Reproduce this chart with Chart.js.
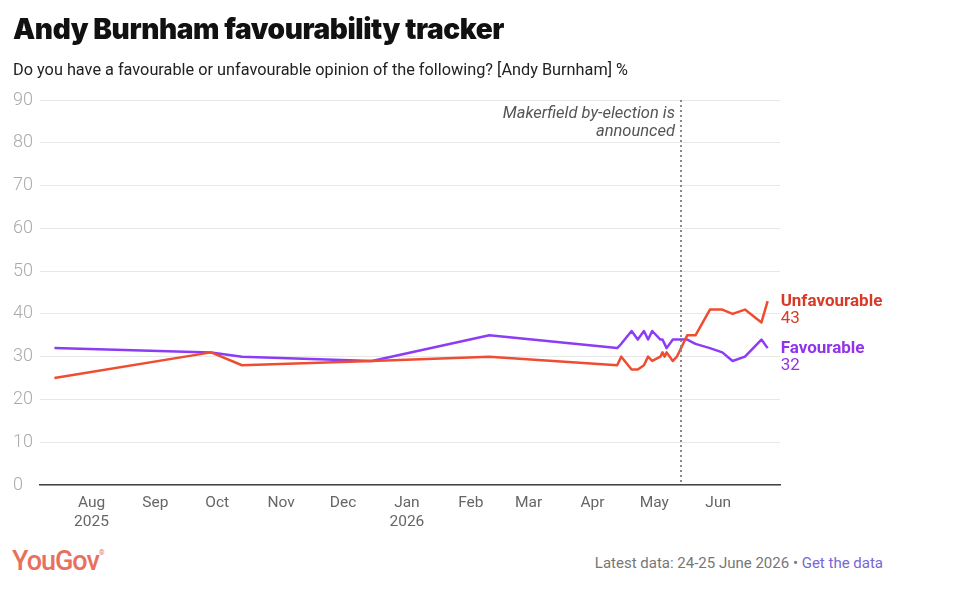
<!DOCTYPE html>
<html>
<head>
<meta charset="utf-8">
<script src="https://cdn.jsdelivr.net/npm/chart.js@4"></script>
<style>
  html, body { margin: 0; padding: 0; background: #fff; }
  body { width: 960px; height: 596px; position: relative; overflow: hidden; font-family: Roboto, sans-serif; }
  #title { position: absolute; left: 13px; top: 12px; font-family: Inter, sans-serif; font-weight: 900; font-size: 28px; letter-spacing: -0.4px; color: #111; }
  #subtitle { position: absolute; left: 13px; top: 60px; font-size: 16.3px; color: #222; }
  #wrap { position: absolute; left: 0; top: 0; width: 960px; height: 540px; }
  #logo { position: absolute; left: 12px; top: 545px; font-family: Roboto, sans-serif; font-weight: 500; font-size: 27px; letter-spacing: -1px; color: #e8705f; }
  #logo sup { font-size: 7px; vertical-align: 15px; letter-spacing: 0; }
  #footer { position: absolute; right: 77px; top: 554px; font-size: 15px; color: #777; }
  #footer a { color: #7866d8; text-decoration: none; }
</style>
</head>
<body>
<div id="wrap"><canvas id="chart"></canvas></div>
<div id="title">Andy Burnham favourability tracker</div>
<div id="subtitle">Do you have a favourable or unfavourable opinion of the following? [Andy Burnham] %</div>
<div id="logo">YouGov<sup>®</sup></div>
<div id="footer">Latest data: 24-25 June 2026 • <a>Get the data</a></div>
<script>
'use strict';

//////////////////////
// data
//////////////////////

const pollDates = ['2025-07-14', '2025-09-28', '2025-10-13', '2025-12-15', '2026-02-10',
  '2026-04-13', '2026-04-15', '2026-04-20', '2026-04-23', '2026-04-26', '2026-04-28', '2026-04-30',
  '2026-05-04', '2026-05-05', '2026-05-06', '2026-05-07', '2026-05-10', '2026-05-12', '2026-05-17',
  '2026-05-21', '2026-05-28', '2026-06-03', '2026-06-08', '2026-06-14', '2026-06-22', '2026-06-25'];
const unfavourable = [25, 31, 28, 29, 30,
  28, 30, 27, 27, 28, 30, 29,
  30, 31, 30, 31, 29, 30, 35,
  35, 41, 41, 40, 41, 38, 43];
const favourable = [32, 31, 30, 29, 35,
  32, 33, 36, 34, 36, 34, 36,
  34, 34, 33, 32, 34, 34, 34,
  33, 32, 31, 29, 30, 34, 32];

const monthTickDates = ['2025-08-01', '2025-09-01', '2025-10-01', '2025-11-01', '2025-12-01', '2026-01-01',
  '2026-02-01', '2026-03-01', '2026-04-01', '2026-05-01', '2026-06-01'];
const monthLabels = ['Aug', 'Sep', 'Oct', 'Nov', 'Dec', 'Jan', 'Feb', 'Mar', 'Apr', 'May', 'Jun'];
const yearLabels = ['2025', '', '', '', '', '2026', '', '', '', '', ''];
const yTicks = [0, 10, 20, 30, 40, 50, 60, 70, 80, 90];

const xStart = '2025-07-07';
const xEnd = '2026-07-01';
const eventDate = '2026-05-14';
const eventText = ['Makerfield by-election is', 'announced'];

const unfavColour = '#ef4d31';
const favColour = '#8d3cf6';

//////////////////////
// helpers
//////////////////////

function dayNum(str) {
  const p = str.split('-');
  return Date.UTC(+p[0], +p[1] - 1, +p[2]) / 86400000;
}

function toPoints(values) {
  return values.map((v, i) => ({ x: dayNum(pollDates[i]), y: v }));
}

// dotted line + note, and the end-of-line labels
const overlayPlugin = {
  id: 'overlay',
  afterDatasetsDraw(chart) {
    const ctx = chart.ctx;
    const xs = chart.scales.x;
    const ys = chart.scales.y;
    const area = chart.chartArea;

    const ex = Math.round(xs.getPixelForValue(dayNum(eventDate)));
    ctx.save();
    ctx.strokeStyle = '#8a8a8a';
    ctx.lineWidth = 2;
    ctx.setLineDash([2, 3]);
    ctx.beginPath();
    ctx.moveTo(ex, area.top);
    ctx.lineTo(ex, area.bottom);
    ctx.stroke();
    ctx.setLineDash([]);

    ctx.font = 'italic 16.5px Roboto';
    ctx.fillStyle = '#555';
    ctx.textAlign = 'right';
    ctx.textBaseline = 'middle';
    eventText.forEach((t, i) => ctx.fillText(t, ex - 6, area.top + 14 + i * 18));

    const series = [
      { name: 'Unfavourable', values: unfavourable, colour: '#d93a27' },
      { name: 'Favourable', values: favourable, colour: '#9133ea' }
    ];
    ctx.textAlign = 'left';
    for (const s of series) {
      const last = s.values.length - 1;
      const px = xs.getPixelForValue(dayNum(pollDates[last])) + 13;
      const py = ys.getPixelForValue(s.values[last]);
      ctx.fillStyle = s.colour;
      ctx.font = 'bold 17px Roboto';
      ctx.fillText(s.name, px, py + 1);
      ctx.font = '17px Roboto';
      ctx.fillText(String(s.values[last]), px, py + 18);
    }
    ctx.restore();
  }
};

//////////////////////
// chart
//////////////////////

const config = {
  type: 'line',
  data: {
    datasets: [
      { label: 'Unfavourable', data: toPoints(unfavourable), borderColor: unfavColour, borderWidth: 2.5, pointRadius: 0, tension: 0, borderJoinStyle: 'round' },
      { label: 'Favourable', data: toPoints(favourable), borderColor: favColour, borderWidth: 2.5, pointRadius: 0, tension: 0, borderJoinStyle: 'round' }
    ]
  },
  options: {
    responsive: true,
    maintainAspectRatio: false,
    animation: false,
    layout: { padding: { left: 13, right: 180, top: 100, bottom: 0 } },
    plugins: { legend: { display: false }, tooltip: { enabled: false } },
    scales: {
      x: {
        type: 'linear',
        min: dayNum(xStart),
        max: dayNum(xEnd),
        afterBuildTicks(scale) {
          scale.ticks = monthTickDates.map(d => ({ value: dayNum(d) }));
        },
        afterFit(scale) { scale.height = 55; },
        grid: { display: false, drawTicks: false },
        border: { display: true, color: '#444', width: 1.5 },
        ticks: {
          autoSkip: false,
          maxRotation: 0,
          padding: 8,
          color: '#666',
          font: { family: 'Roboto', size: 15.5, lineHeight: 1.25 },
          callback(value, index) {
            return yearLabels[index] ? [monthLabels[index], yearLabels[index]] : monthLabels[index];
          }
        }
      },
      y: {
        min: 0,
        max: 90,
        afterBuildTicks(scale) {
          scale.ticks = yTicks.map(v => ({ value: v }));
        },
        afterFit(scale) { scale.width = 27; },
        grid: { color: '#e8e8e8', lineWidth: 1, drawTicks: false },
        border: { display: false },
        ticks: {
          crossAlign: 'far',
          padding: 0,
          color: '#aaa',
          font: { family: 'Roboto', size: 18, weight: '300' }
        }
      }
    }
  },
  plugins: [overlayPlugin]
};

const myChart = new Chart(document.getElementById('chart'), config);
</script>
</body>
</html>
